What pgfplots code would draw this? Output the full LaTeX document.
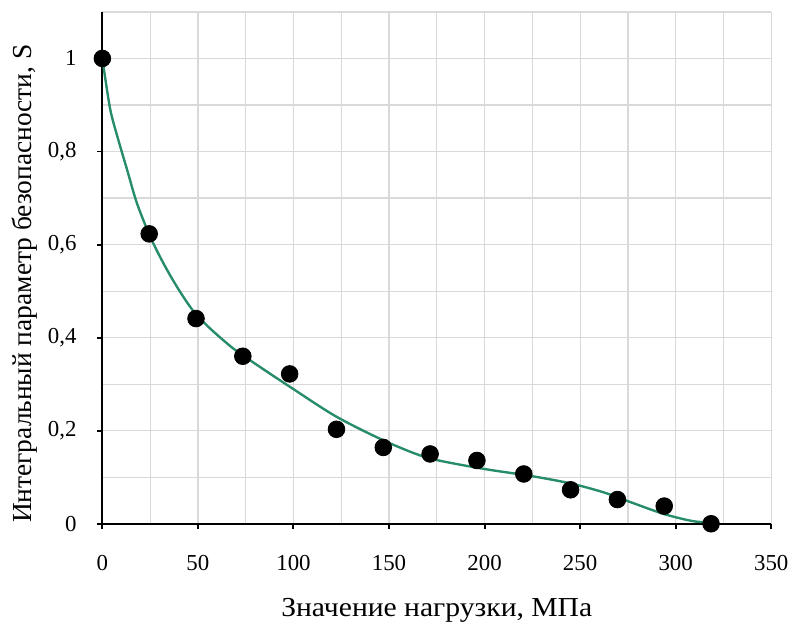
\documentclass[border=0pt]{standalone}
\usepackage{fontspec}
\setmainfont{Liberation Serif}
\newfontfamily\widefont[FakeStretch=1.08]{Liberation Serif}
\usepackage{pgfplots}
\pgfplotsset{compat=1.18}
\definecolor{trend}{RGB}{38,140,105}
\definecolor{gridgray}{RGB}{217,217,217}

\begin{document}
\begin{tikzpicture}
\begin{axis}[
    scale only axis,
    width=336.5pt, height=257.5pt,
    xmin=0, xmax=350, ymin=0, ymax=1.1,
    xtick={0,50,...,350},
    ytick={0,0.2,...,1},
    minor xtick={25,75,...,325},
    minor ytick={0.1,0.3,...,1.1},
    grid=both,
    major grid style={gridgray, line width=0.6pt},
    minor grid style={gridgray, line width=0.6pt},
    axis x line*=bottom, axis y line*=left,
    axis line style={-, black, line width=1pt},
    tick align=outside,
    major tick length=2.5pt,
    minor tick length=0pt,
    tick style={black, line width=1pt},
    /pgf/number format/use comma,
    /pgf/number format/assume math mode=true,
    tick label style={font=\fontsize{11.5}{13}\selectfont},
    xticklabel style={yshift=-10pt},
    yticklabel style={xshift=-7pt},
    xlabel={Значение нагрузки, МПа},
    ylabel={Интегральный параметр безопасности, S},
    xlabel style={font=\widefont\fontsize{13.8}{16}\selectfont,
                  at={(axis description cs:0.5,-0.170)}, anchor=center},
    ylabel style={font=\fontsize{13.8}{16}\selectfont,
                  at={(axis description cs:-0.117,0.469)}, anchor=center},
    clip=false,
]
% trend line
\addplot[trend, line width=1.2pt, smooth, no markers] coordinates {
(0,1.0)(4,0.893)(8,0.830)(13,0.760)(18,0.690)(24.4,0.623)(30,0.575)(36,0.530)
(42,0.490)(48,0.455)(55,0.425)(62,0.399)(70,0.372)(85,0.330)(99,0.292)
(120,0.236)(137,0.199)(154.4,0.166)(171.8,0.140)(199.5,0.118)(223.8,0.103)
(244.6,0.087)(261.9,0.068)(276,0.047)(293,0.022)(305,0.009)(312,0.004)(318.5,0.004)
};
% measured points
\addplot[only marks, mark=*, mark size=4.2pt, black] coordinates {
(0,1.0)(24.5,0.623)(49,0.441)(73.5,0.360)(98,0.322)(122.5,0.203)(147,0.164)
(171.5,0.150)(196,0.136)(220.5,0.107)(245,0.073)(269.5,0.052)(294,0.038)(318.5,0.0)
};
\end{axis}
\path (current axis.south west) ++(-51.5pt,-49pt) coordinate (bl);
\path (current axis.north east) ++(9.5pt,6pt) coordinate (tr);
\path (bl) rectangle (tr);
\end{tikzpicture}
\end{document}
